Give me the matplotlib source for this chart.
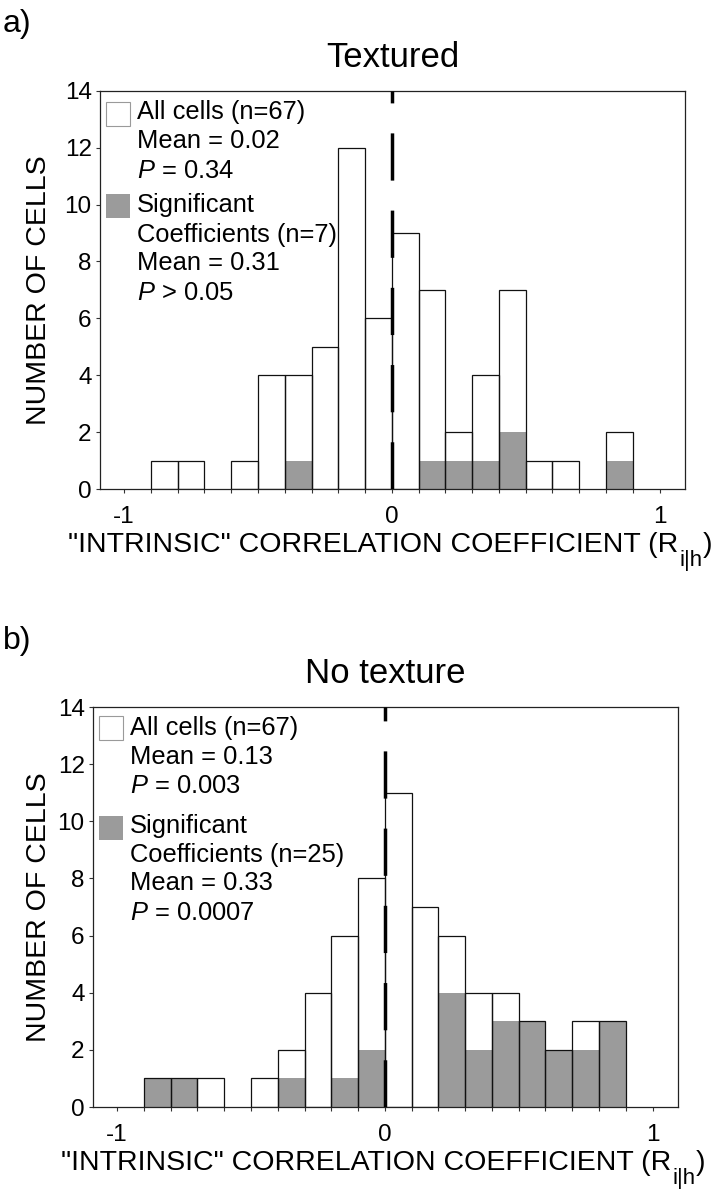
import numpy as np
import matplotlib
matplotlib.use("Agg")
import matplotlib.pyplot as plt
from matplotlib.patches import Rectangle

plt.rcParams['font.family'] = ['Liberation Sans', 'DejaVu Sans']
plt.rcParams['mathtext.fontset'] = 'custom'
plt.rcParams['mathtext.rm'] = 'Liberation Sans'
plt.rcParams['mathtext.it'] = 'Liberation Sans:italic'
plt.rcParams['lines.scale_dashes'] = False

# bin left edges (bin width 0.1)
bin_edges = [-1.0, -0.9, -0.8, -0.7, -0.6, -0.5, -0.4, -0.3, -0.2, -0.1,
             0.0, 0.1, 0.2, 0.3, 0.4, 0.5, 0.6, 0.7, 0.8, 0.9]
bin_width = 0.1

textured_all = [0, 1, 1, 0, 1, 4, 4, 5, 12, 6, 9, 7, 2, 4, 7, 1, 1, 0, 2, 0]
textured_sig = [0, 0, 0, 0, 0, 0, 1, 0, 0, 0, 0, 1, 1, 1, 2, 0, 0, 0, 1, 0]
notex_all = [0, 1, 1, 1, 0, 1, 2, 4, 6, 8, 11, 7, 6, 4, 4, 3, 2, 3, 3, 0]
notex_sig = [0, 1, 1, 0, 0, 0, 1, 0, 1, 2, 0, 0, 4, 2, 3, 3, 2, 2, 3, 0]

textured_legend = ["All cells (n=67)", "Mean = 0.02", "$P$ = 0.34",
                   "Significant", "Coefficients (n=7)", "Mean = 0.31", "$P$ > 0.05"]
notex_legend = ["All cells (n=67)", "Mean = 0.13", "$P$ = 0.003",
                "Significant", "Coefficients (n=25)", "Mean = 0.33", "$P$ = 0.0007"]

GRAY = '#9b9b9b'
W, H = 718, 1200
fig = plt.figure(figsize=(W / 100, H / 100), dpi=100)


def px_axes(left, top, right, bottom):
    return fig.add_axes([left / W, 1 - bottom / H, (right - left) / W, (bottom - top) / H])


def draw_panel(ax, counts, sig, title, legend, axh, baselines, patch_tops):
    x = np.array(bin_edges)
    c = np.array(counts)
    s = np.array(sig)
    m = c > 0
    ax.bar(x[m], c[m], width=bin_width, align='edge', color='white', lw=0, zorder=2)
    ms = s > 0
    ax.bar(x[ms], s[ms], width=bin_width, align='edge', color=GRAY, lw=0, zorder=3)
    ax.bar(x[m], c[m], width=bin_width, align='edge', facecolor='none',
           edgecolor='#111111', lw=0.9, zorder=4)
    ax.axvline(0, color='black', lw=2.5, dashes=(34, 21.6), zorder=6)

    ax.set_xlim(-1.09, 1.095)
    ax.set_ylim(0, 14)
    ax.set_yticks(range(0, 15, 2))
    ax.set_xticks([-1, 0, 1])
    ax.set_xticklabels(['-1', '0', '1'])
    ax.set_xticks([e for e in bin_edges + [1.0] if round(e, 1) not in (-1.0, 0.0, 1.0)], minor=True)
    ax.tick_params(axis='both', which='both', direction='out', length=3, width=0.8,
                   labelsize=17.5, color='#333333')
    ax.tick_params(axis='x', which='both', pad=9)
    ax.tick_params(axis='y', pad=3)
    for sp in ax.spines.values():
        sp.set_linewidth(0.9)
        sp.set_color('#222222')

    # x label with a large, low-set subscript
    lab = ax.set_xlabel('"INTRINSIC" CORRELATION COEFFICIENT (R', fontsize=20.5, labelpad=3)
    ax.xaxis.label.set_x(0.467)
    sub = ax.annotate('i|h', xy=(1, 0), xycoords=lab, xytext=(0.5, -6), textcoords='offset points',
                      fontsize=16, ha='left', va='baseline', annotation_clip=False)
    ax.annotate(')', xy=(1, 0), xycoords=(sub, lab), xytext=(0.5, 4.4), textcoords='offset points',
                fontsize=20.5, ha='left', va='baseline', annotation_clip=False)

    ax.set_title(title, fontsize=25, pad=17)

    # legend block, positions given in pixels from the axes' top-left corner
    def fy(p):
        return 1 - p / axh
    ax.add_patch(Rectangle((6 / 585, fy(patch_tops[0] + 24)), 24 / 585, 24 / axh,
                           transform=ax.transAxes, facecolor='white',
                           edgecolor='#9a9a9a', lw=0.8, zorder=7))
    ax.add_patch(Rectangle((6 / 585, fy(patch_tops[1] + 24)), 24 / 585, 24 / axh,
                           transform=ax.transAxes, facecolor=GRAY, lw=0, zorder=7))
    for line, b in zip(legend, baselines):
        ax.text(37 / 585, fy(b), line, transform=ax.transAxes, fontsize=18.4,
                va='baseline', ha='left', zorder=8)


ax1 = px_axes(100, 90.7, 685, 489)
draw_panel(ax1, textured_all, textured_sig, 'Textured', textured_legend, 398.3,
           [28.6, 57.6, 87.6, 121, 151, 179.3, 209.3], [11, 103])
ax2 = px_axes(93, 707, 678, 1107)
draw_panel(ax2, notex_all, notex_sig, 'No texture', notex_legend, 400,
           [28, 57, 86, 126, 155, 183, 213], [9, 109])

for ax, top, bottom in [(ax1, 90.7, 489), (ax2, 707, 1107)]:
    fig.text(39 / W, 1 - (top + bottom) / 2 / H, 'NUMBER OF CELLS', rotation=90,
             ha='center', va='center', fontsize=20.5)

fig.text(3 / W, 1 - 32 / H, 'a)', fontsize=23, ha='left', va='baseline')
fig.text(3 / W, 1 - 649 / H, 'b)', fontsize=23, ha='left', va='baseline')

fig.savefig('out.png', dpi=100)
